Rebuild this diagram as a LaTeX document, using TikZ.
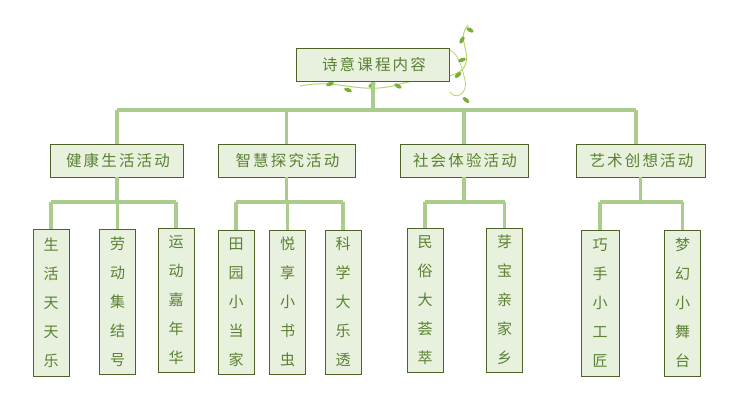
\documentclass[tikz,border=0pt]{standalone}
\usepackage{fontspec}
\setmainfont{Noto Sans CJK SC}[LetterSpace=14]
\definecolor{bfill}{HTML}{E8F0DE}
\definecolor{bdraw}{HTML}{4F6228}
\definecolor{lnk}{HTML}{AACC8C}
\definecolor{txt}{HTML}{5A8232}
\definecolor{vine}{HTML}{B8D46A}
\definecolor{leaf}{HTML}{7AAE3A}
\begin{document}
\begin{tikzpicture}[x=1pt,y=-1pt,
  box/.style={draw=bdraw,fill=bfill,line width=0.9pt,text=txt,font=\fontsize{15.5}{16}\selectfont,inner sep=0pt},
  hbox/.style={box,minimum height=33},
  vbox/.style={box,align=center,font=\fontsize{15}{29}\selectfont,minimum width=36},
  link/.style={draw=lnk,line width=3.2pt},
  lf/.style={fill=leaf,draw=none}]
\useasboundingbox (0,0) rectangle (738,409);
% vines
\draw[vine,line width=1pt] (300,86) .. controls (340,78) and (360,96) .. (400,84) .. controls (430,76) and (450,80) .. (462,70) .. controls (475,55) and (455,40) .. (468,25);
\draw[vine,line width=0.8pt] (440,50) .. controls (455,45) and (460,60) .. (465,80) .. controls (468,95) and (455,100) .. (450,92);
\foreach \p/\a in {{330,84}/20,{348,90}/-20,{372,85}/30,{398,86}/-30,{420,80}/10,{458,75}/40,{466,100}/-40,{462,60}/20,{470,30}/-30,{462,40}/60}
  \fill[leaf,rotate around={\a:(\p)}] (\p) ellipse (4 and 2);
\node[hbox,minimum width=153] (root) at (373,65) {\hspace{2pt}诗意课程内容};
\node[hbox,minimum width=133] (a) at (117,160.5) {\hspace{2pt}健康生活活动};
\node[hbox,minimum width=137] (b) at (286.5,160.5) {\hspace{2pt}智慧探究活动};
\node[hbox,minimum width=128] (c) at (464,160.5) {\hspace{2pt}社会体验活动};
\node[hbox,minimum width=129] (d) at (640.5,160.5) {\hspace{2pt}艺术创想活动};
\coordinate (h) at (373,110);
\coordinate (hl) at (117,110);
\coordinate (hr) at (636,110);
\draw[link] (root.south) -- (h);
\draw[link] (hl) -- (hr);
\draw[link] (hl) -- (a.north);
\draw[link] (h -| b.north) -- (b.north);
\draw[link] (h -| c.north) -- (c.north);
\draw[link] (hr) -- (636,144);
\node[vbox,minimum height=147] (a1) at (51,302.5) {生\\活\\天\\天\\乐};
\node[vbox,minimum height=145] (a2) at (117.5,301.5) {劳\\动\\集\\结\\号};
\node[vbox,minimum height=144] (a3) at (176,300) {运\\动\\嘉\\年\\华};
\node[vbox,minimum height=144] (b1) at (236,302) {田\\园\\小\\当\\家};
\node[vbox,minimum height=144] (b2) at (287.5,302) {悦\\享\\小\\书\\虫};
\node[vbox,minimum height=144] (b3) at (343,302) {科\\学\\大\\乐\\透};
\node[vbox,minimum height=144] (c1) at (425,300) {民\\俗\\大\\荟\\萃};
\node[vbox,minimum height=144] (c2) at (504.5,300) {芽\\宝\\亲\\家\\乡};
\node[vbox,minimum height=146,minimum width=38] (d1) at (600,303) {巧\\手\\小\\工\\匠};
\node[vbox,minimum height=146] (d2) at (682.5,303) {梦\\幻\\小\\舞\\台};
% second level links
\foreach \pp/\l/\r/\kids in {a/a1/a3/{a1,a2,a3},b/b1/b3/{b1,b2,b3},c/c1/c2/{c1,c2},d/d1/d2/{d1,d2}}{
  \draw[link] (\pp.south) -- (\pp.south |- 0,202);
  \draw[link] (\l.north |- 0,202) -- (\r.north |- 0,202);
  \foreach \k in \kids {\draw[link] (\k.north |- 0,202) -- (\k.north);}
}
\end{tikzpicture}
\end{document}
